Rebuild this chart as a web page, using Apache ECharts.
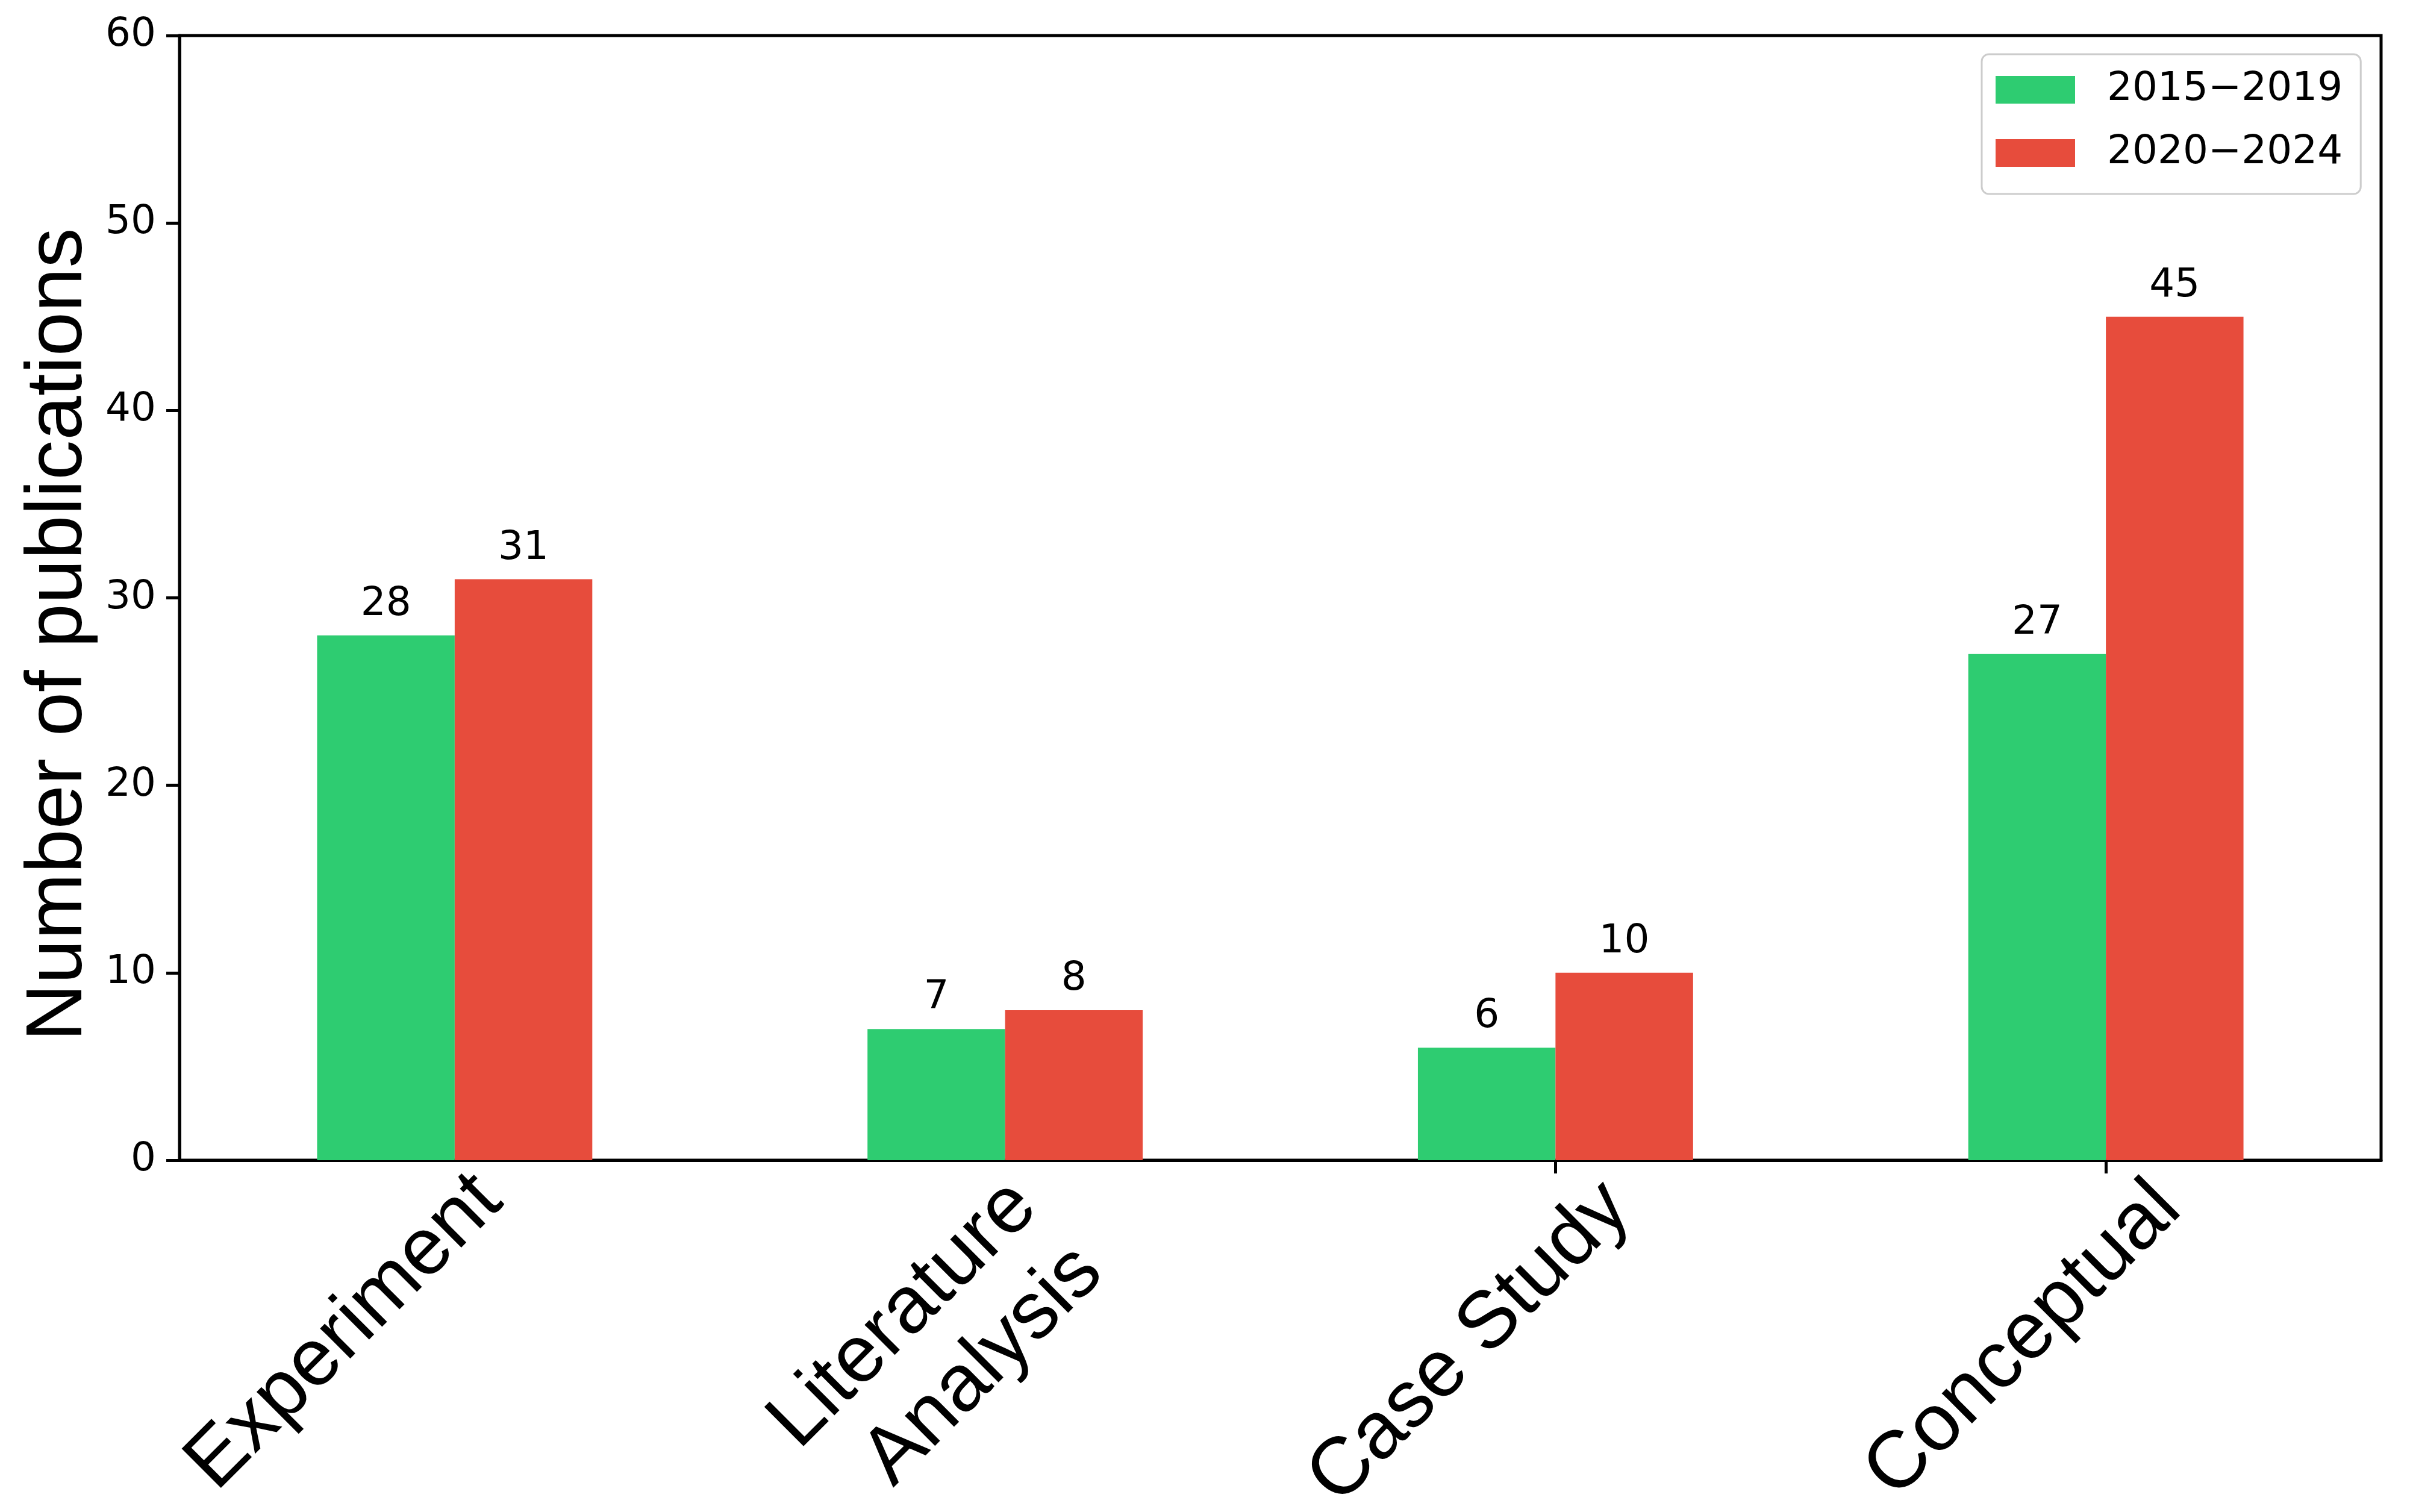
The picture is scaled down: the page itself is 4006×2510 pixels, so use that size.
<!DOCTYPE html>
<html>
<head>
<meta charset="utf-8">
<script src="https://cdn.jsdelivr.net/npm/echarts@6/dist/echarts.min.js"></script>
<style>
  html, body { margin: 0; padding: 0; background: #ffffff; }
  #chart { width: 4006px; height: 2510px; }
</style>
</head>
<body>
<div id="chart"></div>
<script>
const categories = ['Experiment', 'Literature\nAnalysis', 'Case Study', 'Conceptual'];
const seriesNames = ['2015−2019', '2020−2024'];
const values2015 = [28, 7, 6, 27];
const values2020 = [31, 8, 10, 45];
const yTicks = { min: 0, max: 60, interval: 10 };
const yTitle = 'Number of publications';

const chart = echarts.init(document.getElementById('chart'), null, { renderer: 'canvas' });

const valueLabel = {
  show: true,
  position: 'top',
  distance: 18,
  fontFamily: 'DejaVu Sans',
  fontSize: 66,
  color: '#000000'
};

// shared label style for the rotated category labels
function catLabel(showIdx, margin, padding) {
  return {
    interval: (index) => showIdx.indexOf(index) >= 0,
    rotate: 45, align: 'right', verticalAlign: 'top',
    fontFamily: 'Liberation Sans', fontSize: 134, lineHeight: 154,
    color: '#000000', margin: margin, padding: padding
  };
}

const hiddenAxisParts = {
  axisLine: { show: false },
  axisTick: { show: false },
  splitLine: { show: false }
};

chart.setOption({
  animation: false,
  backgroundColor: '#ffffff',
  grid: {
    left: 298, right: 53, top: 59, bottom: 584,
    containLabel: false,
    outerBoundsMode: 'none',
    show: true, borderColor: '#000000', borderWidth: 5,
    backgroundColor: 'transparent'
  },
  legend: {
    orient: 'vertical',
    left: 3290, top: 90,
    itemWidth: 132, itemHeight: 46, itemGap: 39,
    padding: [26, 30, 35, 23],
    borderColor: '#cccccc', borderWidth: 3, borderRadius: 12,
    backgroundColor: 'rgba(255,255,255,0.8)',
    icon: 'rect',
    textStyle: { fontFamily: 'DejaVu Sans', fontSize: 66, color: '#000000', padding: [0, 0, 0, 48] },
    data: seriesNames
  },
  xAxis: [
    {
      type: 'category', position: 'bottom',
      data: categories,
      axisLine: { show: true, lineStyle: { color: '#000000', width: 5 } },
      axisTick: { show: true, alignWithLabel: true, length: 22, lineStyle: { color: '#000000', width: 5 } },
      axisLabel: catLabel([2, 3], -44, [69, 0, 0, 0]),
      splitLine: { show: false }
    },
    Object.assign({
      type: 'category', position: 'bottom',
      data: categories,
      axisLabel: catLabel([0], -11, [4, 0, 0, 0])
    }, hiddenAxisParts),
    Object.assign({
      type: 'category', position: 'bottom',
      data: categories,
      axisLabel: catLabel([1], -21, [0, 32, 0, 0])
    }, hiddenAxisParts)
  ],
  yAxis: {
    type: 'value',
    min: yTicks.min, max: yTicks.max, interval: yTicks.interval,
    name: yTitle,
    nameLocation: 'middle',
    nameRotate: 90,
    nameGap: 131,
    nameTextStyle: { fontFamily: 'Liberation Sans', fontSize: 132, color: '#000000', padding: [0, 122, 0, 0] },
    axisLine: { show: true, lineStyle: { color: '#000000', width: 5 } },
    axisTick: { show: true, length: 22, lineStyle: { color: '#000000', width: 5 } },
    axisLabel: { fontFamily: 'DejaVu Sans', fontSize: 66, color: '#000000', margin: 39 },
    splitLine: { show: false }
  },
  series: [
    {
      name: seriesNames[0], type: 'bar', data: values2015, xAxisIndex: 0,
      barWidth: '25%', barGap: '0%',
      itemStyle: { color: '#2ecc71' },
      label: valueLabel
    },
    {
      name: seriesNames[1], type: 'bar', data: values2020, xAxisIndex: 0,
      barWidth: '25%', barGap: '0%',
      itemStyle: { color: '#e74c3c' },
      label: valueLabel
    }
  ]
});
</script>
</body>
</html>
